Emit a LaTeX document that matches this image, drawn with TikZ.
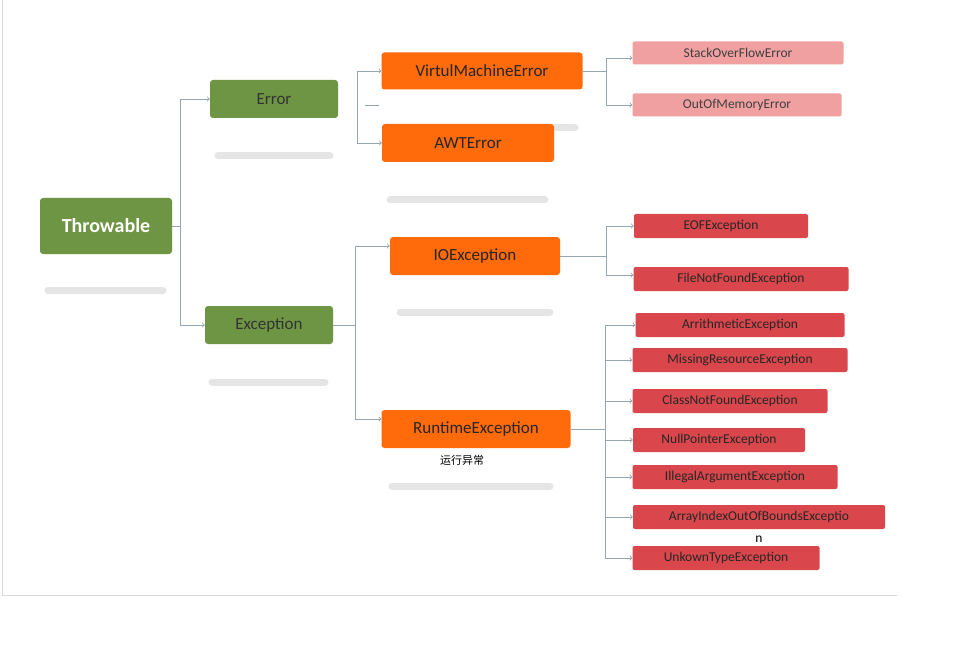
\documentclass[tikz,border=0pt]{standalone}
\usepackage{fontspec}
\setmainfont{Carlito}
\newfontfamily\cjk{Noto Sans CJK SC}
\definecolor{gr}{HTML}{6E9543}
\definecolor{og}{HTML}{FF6A0A}
\definecolor{rd}{HTML}{D9464B}
\definecolor{pk}{HTML}{F0A0A0}
\definecolor{ln}{HTML}{94A7B0}
\tikzset{
 box/.style={rounded corners=3pt,minimum height=38pt,inner sep=0pt,font=\fontsize{17}{17}\selectfont},
 gbox/.style={box,fill=gr,text=black!80},
 obox/.style={box,fill=og,text=black!85},
 rbox/.style={rounded corners=2pt,minimum height=24pt,inner sep=0pt,fill=rd,text=black!85,font=\fontsize{13.5}{13.5}\selectfont},
 pbox/.style={rbox,fill=pk,text=black!75},
 con/.style={draw=ln,line width=0.9pt},
 arr/.style={con,-to},
 ghost/.style={line width=7pt,line cap=round,draw=black!10},
}
\begin{document}
\begin{tikzpicture}[x=1pt,y=-1pt]
\useasboundingbox[fill=white] (0,0) rectangle (966,647);
\draw[black!15,line width=1pt] (2,0) -- (2,595) -- (897,595);
% ghost bars
\draw[ghost] (48,290) -- (163,290);
\draw[ghost] (218,156) -- (330,156);
\draw[ghost] (212,382) -- (325,382);
\draw[ghost] (390,200) -- (545,200);
\draw[ghost] (400,312) -- (550,312);
\draw[ghost] (392,486) -- (550,486);
\draw[ghost] (540,128) -- (575,128);
% nodes
\node[gbox,minimum width=132pt,minimum height=56pt,text=white,font=\bfseries\fontsize{20}{20}\selectfont] (thr) at (106,226) {Throwable};
\node[gbox,minimum width=128pt] (err) at (274,99) {Error};
\node[gbox,minimum width=128pt] (exc) at (269,325) {Exception};
\node[obox,minimum width=201pt,minimum height=37pt] (vme) at (482,71) {VirtulMachineError};
\node[obox,minimum width=172pt] (awt) at (468,143) {AWTError};
\node[obox,minimum width=170pt] (io) at (475,256) {IOException};
\node[obox,minimum width=189pt] (rt) at (476,429) {RuntimeException};
\node[font=\cjk\fontsize{11}{11}\selectfont] (rtl) at (462,460) {运行异常};
\node[pbox,minimum width=211pt,minimum height=23pt] (so) at (738,53) {StackOverFlowError};
\node[pbox,minimum width=209pt,minimum height=23pt] (oom) at (737,105) {OutOfMemoryError};
\node[rbox,minimum width=174pt] (eof) at (721,226) {EOFException};
\node[rbox,minimum width=215pt] (fnf) at (741,279) {FileNotFoundException};
\node[rbox,minimum width=209pt] (ari) at (740,325) {ArrithmeticException};
\node[rbox,minimum width=215pt] (mis) at (740,360) {MissingResourceException};
\node[rbox,minimum width=195pt] (cnf) at (730,401) {ClassNotFoundException};
\node[rbox,minimum width=172pt] (npe) at (719,440) {NullPointerException};
\node[rbox,minimum width=205pt] (iae) at (735,477) {IllegalArgumentException};
\node[rbox,minimum width=252pt] (aio) at (759,517) {ArrayIndexOutOfBoundsExceptio};
\node[font=\fontsize{13.5}{13.5}\selectfont] (aion) at (759,539) {n};
\node[rbox,minimum width=187pt] (ukt) at (726,558) {UnkownTypeException};
% connectors
\coordinate (t1) at (180,226);
\draw[con] (thr.east) -- (t1);
\draw[arr] (t1) |- (err.west);
\draw[arr] (t1) |- (exc.west);
\coordinate (e1) at (357,105);
\draw[arr] (e1) |- (vme.west);
\draw[arr] (e1) |- (awt.west);
\coordinate (d1) at (365,105); \coordinate (d2) at (379,105);
\draw[con] (d1) -- (d2);
\coordinate (x1) at (355,325);
\draw[con] (exc.east) -- (x1);
\draw[arr] (x1) |- ([yshift=10pt]io.west);
\draw[arr] (x1) |- ([yshift=10pt]rt.west);
\coordinate (v1) at (606,71);
\draw[con] (vme.east) -- (v1);
\draw[arr] (v1) |- ([yshift=-5pt]so.west);
\draw[arr] (v1) |- (oom.west);
\coordinate (i1) at (606,256);
\draw[con] (io.east) -- (i1);
\draw[arr] (i1) |- (eof.west);
\draw[arr] (i1) |- ([yshift=4pt]fnf.west);
\coordinate (r1) at (605,429);
\draw[con] (rt.east) -- (r1);
\foreach \n in {ari,mis,cnf,npe,iae,aio,ukt} \draw[arr] (r1) |- (\n.west);
\end{tikzpicture}
\end{document}
